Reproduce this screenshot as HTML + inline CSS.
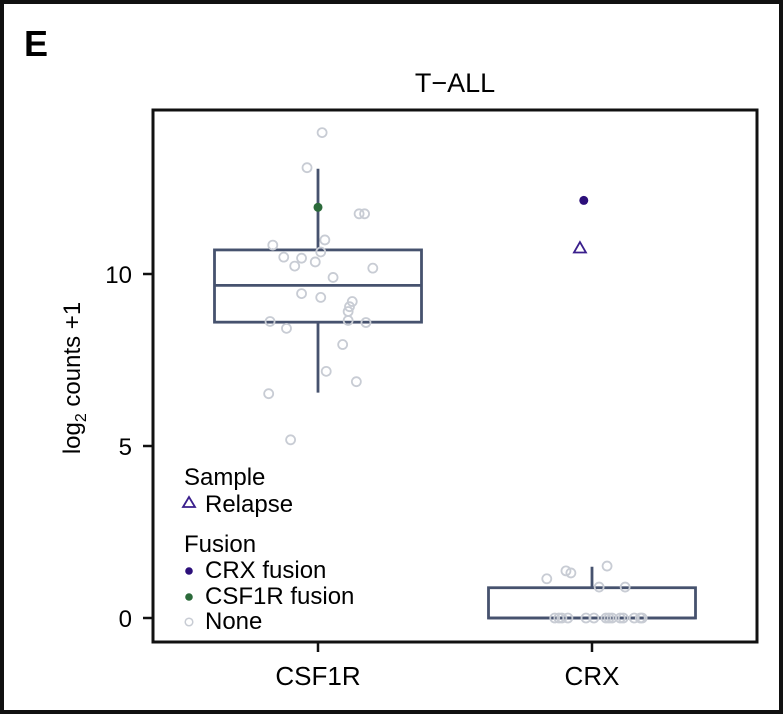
<!DOCTYPE html>
<html><head><meta charset="utf-8"><style>
body{margin:0;background:#fff}
svg{display:block;font-family:"Liberation Sans",Arial,sans-serif}
</style></head><body>
<svg id="c" width="784" height="714" viewBox="0 0 784 714">
<rect x="2" y="2" width="779" height="710" fill="#fff" stroke="#111" stroke-width="4"/>
<text x="24" y="56" font-size="36" font-weight="bold">E</text>
<text x="455" y="92" font-size="27" text-anchor="middle">T−ALL</text>
<g id="plot"></g>
<rect x="153" y="110" width="604" height="532" fill="none" stroke="#111" stroke-width="3"/>
<text transform="translate(80,378) rotate(-90)" font-size="24" text-anchor="middle">log<tspan font-size="16" dy="6">2</tspan><tspan dy="-6"> counts +1</tspan></text>
<g>
<text x="184" y="485" font-size="24">Sample</text>
<polygon points="189,497 183,507 195,507" fill="none" stroke="#3a1f8c" stroke-width="1.8"/>
<text x="205" y="512" font-size="24">Relapse</text>
<text x="184" y="552" font-size="24">Fusion</text>
<circle cx="189" cy="571" r="3.8" fill="#2c0f7a"/>
<text x="205" y="578" font-size="24">CRX fusion</text>
<circle cx="189" cy="597" r="3.8" fill="#2b6a3a"/>
<text x="205" y="604" font-size="24">CSF1R fusion</text>
<circle cx="189" cy="622" r="3.8" fill="none" stroke="#c8ccd4" stroke-width="1.5"/>
<text x="205" y="629" font-size="24">None</text>
</g>
</svg>
<script>
const categories=["CSF1R","CRX"];
const yTicks=[0,5,10];
const boxQ1=[8.6,0];
const boxMedian=[9.67,0];
const boxQ3=[10.7,0.88];
const whiskerLow=[6.55,0];
const whiskerHigh=[13.06,1.49];
const csf1rValues=[14.11,13.09,11.75,11.75,10.84,10.99,10.64,10.49,10.46,10.23,10.35,10.17,9.90,9.43,9.32,9.20,9.05,8.91,8.65,8.59,8.62,8.42,7.95,7.17,6.87,6.52,5.18];
const csf1rJitter=[0.015,-0.04,0.15,0.17,-0.165,0.025,0.01,-0.125,-0.06,-0.085,-0.01,0.2,0.055,-0.06,0.01,0.125,0.115,0.11,0.11,0.175,-0.175,-0.115,0.09,0.03,0.14,-0.18,-0.1];
const crxValues=[1.14,1.37,1.31,1.51,0.90,0.90,0,0,0,0,0,0,0,0,0,0,0,0,0,0];
const crxJitter=[-0.165,-0.095,-0.077,0.055,0.026,0.121,-0.136,-0.121,-0.11,-0.088,-0.022,0.007,0.051,0.062,0.073,0.103,0.114,0.154,0.176,0.183];
const csf1rFusion=[11.94];const csf1rFusionJitter=[0];
const crxFusion=[12.14];const crxFusionJitter=[-0.03];
const crxRelapse=[10.77];const crxRelapseJitter=[-0.044];
const NS="http://www.w3.org/2000/svg";
const g=document.getElementById('plot');
const svg=document.getElementById('c');
const y=v=>618-v*34.4;
const x=(i,j)=>318+i*274+(j||0)*274;
const BW=207;
function mk(t,a,p){const e=document.createElementNS(NS,t);for(const k in a)e.setAttribute(k,a[k]);(p||g).appendChild(e);return e;}
const stroke="#46526e";
categories.forEach((c,i)=>{
  const cx=x(i);
  const wl=mk('line',{x1:cx,x2:cx,y1:y(whiskerHigh[i]),y2:y(whiskerLow[i]),stroke:stroke,'stroke-width':2.8});
  
  
  const b=mk('rect',{x:cx-BW/2,y:y(boxQ3[i]),width:BW,height:y(boxQ1[i])-y(boxQ3[i]),fill:'#fff',stroke:stroke,'stroke-width':2.8});
  
  
  const m=mk('line',{x1:cx-BW/2,x2:cx+BW/2,y1:y(boxMedian[i]),y2:y(boxMedian[i]),stroke:stroke,'stroke-width':2.8});
  
  
  const t=mk('line',{x1:cx,x2:cx,y1:642,y2:652,stroke:'#111','stroke-width':2.5},svg);
  
  
  const l=mk('text',{x:cx,y:685,'font-size':26,'text-anchor':'middle'},svg);l.textContent=c;
  
  
});
yTicks.forEach(v=>{
  const t=mk('line',{x1:143,x2:153,y1:y(v),y2:y(v),stroke:'#111','stroke-width':2.5},svg);
  
  
  const l=mk('text',{x:132,y:y(v)+9,'font-size':24,'text-anchor':'end'},svg);l.textContent=v;
  
  
});
function pts(vals,jit,i,name){vals.forEach((v,k)=>{
  const p=mk('circle',{cx:x(i,jit[k]),cy:y(v),r:4.5,fill:'none',stroke:'#c8ccd4','stroke-width':1.8});
  
  
});}
pts(csf1rValues,csf1rJitter,0,'point-csf1r');
pts(crxValues,crxJitter,1,'point-crx');
csf1rFusion.forEach((v,k)=>{const p=mk('circle',{cx:x(0,csf1rFusionJitter[k]),cy:y(v),r:4.5,fill:'#2b6a3a'});
  
  });
crxFusion.forEach((v,k)=>{const p=mk('circle',{cx:x(1,crxFusionJitter[k]),cy:y(v),r:4.5,fill:'#2c0f7a'});
  
  });
crxRelapse.forEach((v,k)=>{const cx=x(1,crxRelapseJitter[k]),cy=y(v);
  const p=mk('polygon',{points:`${cx},${cy-5.5} ${cx-6},${cy+5} ${cx+6},${cy+5}`,fill:'none',stroke:'#3a1f8c','stroke-width':1.8});
  
  });
</script>
</body></html>
